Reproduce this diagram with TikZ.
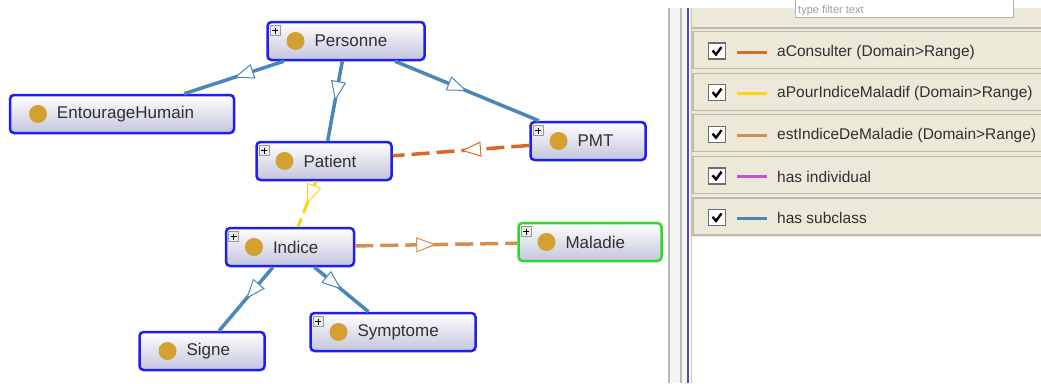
\documentclass[tikz,border=0pt]{standalone}
\usepackage{fontspec}
\setmainfont{Liberation Sans}
\usetikzlibrary{arrows.meta, decorations.markings, positioning}

\definecolor{clsblue}{HTML}{1E1EF0}
\definecolor{clsgreen}{HTML}{2ED82E}
\definecolor{clslav}{HTML}{C4C4DE}
\definecolor{dotgold}{HTML}{D3A032}
\definecolor{subblue}{HTML}{4A86B8}
\definecolor{consorange}{HTML}{D8692A}
\definecolor{indyellow}{HTML}{FFD21A}
\definecolor{malorange}{HTML}{D48E4E}
\definecolor{indivpurple}{HTML}{C455D8}
\definecolor{panelbeige}{HTML}{ECE9D8}
\definecolor{panelgray}{HTML}{BDBAAE}
\definecolor{textgray}{HTML}{303030}

\tikzset{
  cls/.style={rounded corners=4pt, draw=clsblue, line width=2.5pt,
    top color=white, bottom color=clslav, minimum height=38pt,
    text width=#1, inner xsep=0pt, align=left, text=textgray,
    font=\fontsize{17}{19}\selectfont,
    execute at begin node={\hspace*{47pt}},
    path picture={\fill[dotgold] ([xshift=28pt]path picture bounding box.west) circle (9pt);}},
  plusbox/.style={draw=gray!80, fill=gray!15, line width=0.7pt,
    minimum size=10pt, inner sep=0pt,
    path picture={\draw[black, line width=1.1pt]
      ([xshift=-3pt]path picture bounding box.center) -- ([xshift=3pt]path picture bounding box.center)
      ([yshift=-3pt]path picture bounding box.center) -- ([yshift=3pt]path picture bounding box.center);}},
  midtri/.style={postaction={decorate}, decoration={markings,
    mark=at position 0.5 with {\arrow{Triangle[fill=white, line width=1pt, length=20pt, width=15pt]}}}},
  sub/.style={draw=subblue, line width=3.5pt, midtri},
  prop/.style={draw=#1, line width=3.5pt, dash pattern=on 18pt off 7pt, midtri},
  legrow/.style={draw=panelgray, fill=panelbeige, line width=1.2pt,
    minimum width=352pt, minimum height=37pt, inner sep=0pt},
  chkbox/.style={draw=gray!85!black, fill=white, line width=1.4pt,
    minimum width=17pt, minimum height=16pt, inner sep=0pt,
    path picture={\draw[black, line width=2.4pt]
      ([shift={(-4.5pt,0.5pt)}]path picture bounding box.center) --
      ([shift={(-1pt,-3.5pt)}]path picture bounding box.center) --
      ([shift={(4.5pt,4pt)}]path picture bounding box.center);}},
  legtext/.style={text=textgray, font=\fontsize{15.5}{18}\selectfont, inner sep=0pt}
}

\begin{document}
\begin{tikzpicture}[x=1pt, y=-1pt]
   \useasboundingbox (0,0) rectangle (1041,383);
   \fill[white] (0,0) rectangle (1041,383);
   % Panel frame
   \fill[gray!8] (669,8) rectangle (688,383);
   \draw[gray!55, line width=1.5pt] (669,8) -- (669,383);
   \draw[gray!55, line width=1.2pt] (681,8) -- (681,383);
   \draw[blue!40!gray, line width=2pt] (688,8) -- (688,383);
   \fill[panelbeige] (690,8) rectangle (1041,237);
   \draw[gray!45, line width=1pt] (691,8) -- (691,383);
   \draw[panelgray, line width=1.2pt] (691,28) -- (1041,28);
   % Filter box
   \fill[white] (795,0) rectangle (1013,17);
   \draw[gray!60, line width=1pt] (795,0) |- (1013,17) -- (1013,0);
   \node[legtext, text=gray!75, font=\fontsize{11}{12}\selectfont, anchor=base west] (filter) at (798,13) {type filter text};

   % Classes
   \node[cls=157pt] (personne) at (346,41) {Personne};
   \node[cls=224pt] (entourage) at (122,114) {EntourageHumain};
   \node[cls=135pt] (patient) at (324,161) {Patient};
   \node[cls=115pt] (pmt) at (588,141) {PMT};
   \node[cls=128pt] (indice) at (290,247) {Indice};
   \node[cls=143pt, draw=clsgreen] (maladie) at (590,242) {Maladie};
   \node[cls=125pt] (signe) at (202,351) {Signe};
   \node[cls=165pt] (symptome) at (393,332) {Symptome};
   % Expand icons
   \foreach \n in {personne, patient, pmt, indice, maladie, symptome}
      \node[plusbox] (plus-\n) at ([shift={(9,10)}]\n.north west) {};

   % has subclass
   \draw[sub] (personne) -- (entourage);
   \draw[sub] (personne) -- (patient);
   \draw[sub] (personne) -- (pmt);
   \draw[sub] (indice) -- (signe);
   \draw[sub] (indice) -- (symptome);
   % Properties
   \draw[prop=consorange] (pmt) -- (patient);
   \draw[prop=malorange] (indice) -- (maladie);
   \draw[prop=indyellow, line width=3pt, dash pattern=on 14pt off 6pt] (patient) -- (indice);

   % Legend
   \foreach \i/\col/\txt in {0/consorange/{aConsulter (Domain>Range)},
         1/indyellow/{aPourIndiceMaladif (Domain>Range)},
         2/malorange/{estIndiceDeMaladie (Domain>Range)},
         3/indivpurple/{has individual},
         4/subblue/{has subclass}} {
      \node[legrow] (row\i) at (869,50+41.6*\i) {};
      \node[chkbox] (chk\i) at (717,51+41.6*\i) {};
      \coordinate (ls\i) at (737,52+41.6*\i);
      \coordinate (le\i) at (767,52+41.6*\i);
      \draw[\col, line width=3pt] (ls\i) -- (le\i);
      \node[legtext, anchor=west] (lt\i) at (777,52+41.6*\i) {\txt};
   }
\end{tikzpicture}
\end{document}
